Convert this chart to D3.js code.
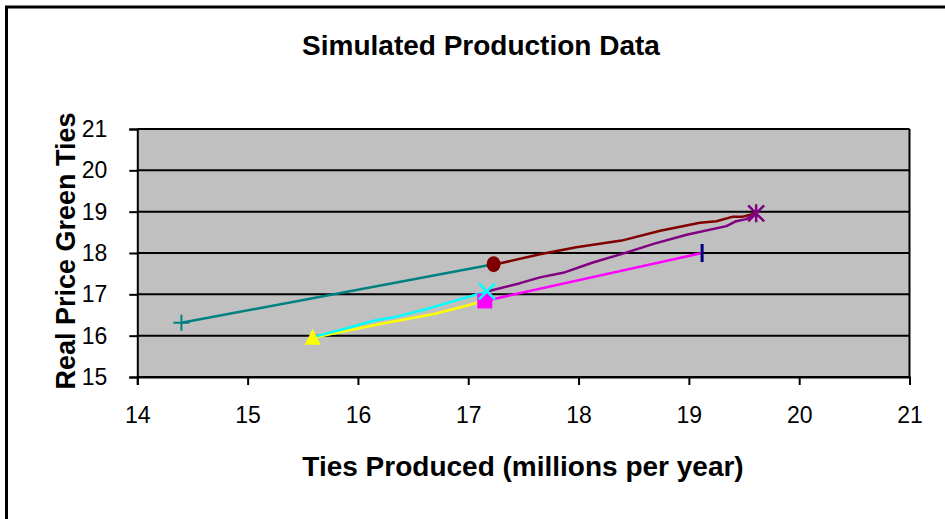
<!DOCTYPE html>
<html>
<head>
<meta charset="utf-8">
<script src="https://cdn.jsdelivr.net/npm/d3@7"></script>
<style>
  body { margin: 0; background: #fff; }
  text { font-family: "Liberation Sans", Arial, sans-serif; }
</style>
</head>
<body>
<div id="chart"></div>
<script>
// tick labels
const xTicks = [14, 15, 16, 17, 18, 19, 20, 21];
const yTicks = [15, 16, 17, 18, 19, 20, 21];

// series: [ties produced, real price]
const tealPts = [[14.40, 16.31], [17.23, 17.73]];
const brownPts = [[17.23, 17.73], [17.29, 17.75], [17.65, 17.97], [17.98, 18.14], [18.39, 18.30],
  [18.74, 18.54], [19.10, 18.73], [19.25, 18.77], [19.40, 18.88], [19.49, 18.88], [19.61, 18.96]];
const yellowPts = [[15.59, 15.95], [16.20, 16.28], [16.70, 16.53], [17.15, 16.84]];
const magentaPts = [[17.15, 16.84], [19.12, 18.00]];
const cyanPts = [[15.60, 15.97], [15.90, 16.18], [16.14, 16.36], [16.35, 16.46], [16.59, 16.62],
  [16.90, 16.86], [17.17, 17.07]];
const purplePts = [[17.17, 17.07], [17.47, 17.27], [17.65, 17.41], [17.86, 17.52], [18.13, 17.77],
  [18.41, 17.99], [18.68, 18.22], [18.98, 18.44], [19.34, 18.65], [19.43, 18.77], [19.52, 18.82], [19.61, 18.96]];
const navyPts = [[19.12, 18.00]];

const series = [
  { pts: tealPts, color: "#008080", marker: "plus", at: 0 },
  { pts: brownPts, color: "#800000", marker: "circle", at: 0 },
  { pts: yellowPts, color: "#FFFF00", marker: "triangle", at: 0 },
  { pts: magentaPts, color: "#FF00FF", marker: "square", at: 0 },
  { pts: cyanPts, color: "#00FFFF", marker: "cross", at: cyanPts.length - 1 },
  { pts: purplePts, color: "#800080", marker: "star", at: purplePts.length - 1 },
  { pts: navyPts, color: "#000080", marker: "bar", at: 0 }
];

const width = 945, height = 519;
const margin = { top: 129, right: 35.5, bottom: 142, left: 137.3 };

const svg = d3.select("#chart").append("svg")
    .attr("width", width)
    .attr("height", height);

// outer chart border
svg.append("rect")
    .attr("x", 6.5).attr("y", 7)
    .attr("width", width + 10).attr("height", height + 10)
    .attr("fill", "#fff")
    .attr("stroke", "#000")
    .attr("stroke-width", 3);

const x = d3.scaleLinear().domain([14, 21]).range([margin.left, width - margin.right]);
const y = d3.scaleLinear().domain([15, 21]).range([height - margin.bottom, margin.top]);

// plot area
svg.append("rect")
    .attr("x", x(14)).attr("y", y(21))
    .attr("width", x(21) - x(14)).attr("height", y(15) - y(21))
    .attr("fill", "#C0C0C0");

// gridlines
svg.append("g")
  .selectAll("line")
  .data(yTicks)
  .join("line")
    .attr("x1", x(14)).attr("x2", x(21))
    .attr("y1", d => y(d)).attr("y2", d => y(d))
    .attr("stroke", "#000")
    .attr("stroke-width", 2);

// axes
const xAxis = svg.append("g")
    .attr("transform", `translate(0,${y(15)})`)
    .call(d3.axisBottom(x).tickValues(xTicks).tickSize(8).tickPadding(22).tickFormat(d3.format("d")));
const yAxis = svg.append("g")
    .attr("transform", `translate(${x(14)},0)`)
    .call(d3.axisLeft(y).tickValues(yTicks).tickSize(8).tickPadding(22).tickFormat(d3.format("d")));

[xAxis, yAxis].forEach(g => {
  g.select(".domain").attr("stroke", "#000").attr("stroke-width", 2);
  g.selectAll(".tick line").attr("stroke", "#000").attr("stroke-width", 2);
  g.selectAll(".tick text")
      .attr("fill", "#000")
      .style("font-size", "23px")
      .style("font-family", "'Liberation Sans', Arial, sans-serif");
});

// right edge of plot
svg.append("line")
    .attr("x1", x(21)).attr("x2", x(21))
    .attr("y1", y(21)).attr("y2", y(15))
    .attr("stroke", "#000").attr("stroke-width", 2);

// lines
const line = d3.line().x(d => x(d[0])).y(d => y(d[1]));
svg.append("g")
  .selectAll("path")
  .data(series.filter(s => s.pts.length > 1))
  .join("path")
    .attr("d", s => line(s.pts))
    .attr("fill", "none")
    .attr("stroke", s => s.color)
    .attr("stroke-width", 2.5)
    .attr("stroke-linejoin", "round");

// markers
const mk = svg.append("g");
series.forEach(s => {
  const p = s.pts[s.at];
  const cx = x(p[0]), cy = y(p[1]);
  const g = mk.append("g").attr("transform", `translate(${cx},${cy})`);
  if (s.marker === "plus") {
    g.append("path").attr("d", "M-8,0H8M0,-8V8").attr("stroke", s.color).attr("stroke-width", 2);
  } else if (s.marker === "circle") {
    g.append("ellipse").attr("rx", 7).attr("ry", 8).attr("fill", s.color);
  } else if (s.marker === "triangle") {
    g.append("path").attr("d", "M0,-9L8,7H-8Z").attr("fill", s.color);
  } else if (s.marker === "square") {
    g.append("rect").attr("x", -7.5).attr("y", -7.5).attr("width", 15).attr("height", 15).attr("fill", s.color);
  } else if (s.marker === "cross") {
    g.append("path").attr("d", "M-8,-8L8,8M8,-8L-8,8").attr("stroke", s.color).attr("stroke-width", 2.5);
  } else if (s.marker === "star") {
    g.append("path").attr("d", "M-8,-8L8,8M8,-8L-8,8M0,-9V9").attr("stroke", s.color).attr("stroke-width", 2.5);
  } else if (s.marker === "bar") {
    g.append("path").attr("d", "M0,-9V9").attr("stroke", s.color).attr("stroke-width", 3);
  }
});

// title
svg.append("text")
    .attr("x", 481).attr("y", 55)
    .attr("text-anchor", "middle")
    .attr("font-size", "28px")
    .attr("font-weight", "bold")
    .text("Simulated Production Data");

// axis titles
svg.append("text")
    .attr("x", 523).attr("y", 476)
    .attr("text-anchor", "middle")
    .attr("font-size", "28px")
    .attr("font-weight", "bold")
    .text("Ties Produced (millions per year)");

svg.append("text")
    .attr("transform", `translate(75,${y(18) - 2}) rotate(-90)`)
    .attr("text-anchor", "middle")
    .attr("font-size", "27px")
    .attr("font-weight", "bold")
    .text("Real Price Green Ties");
</script>
</body>
</html>
